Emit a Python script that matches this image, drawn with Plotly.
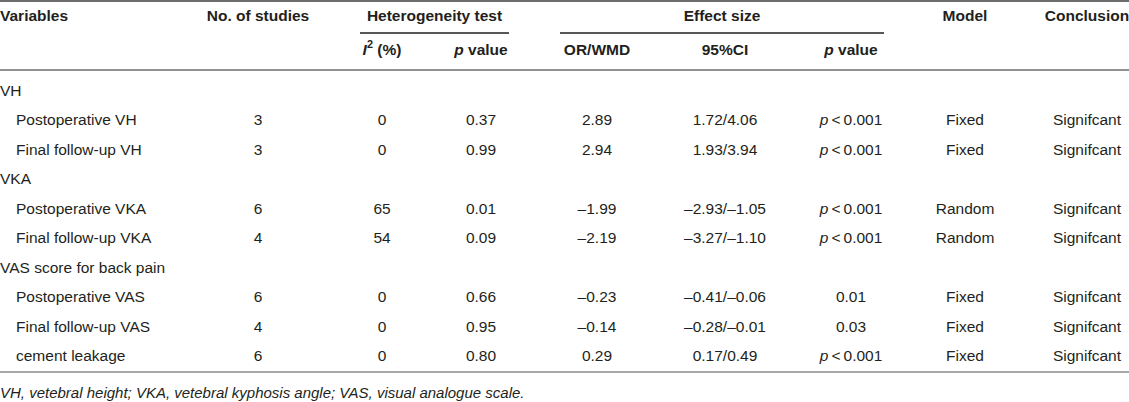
import plotly.graph_objects as go

# ---------------- data ----------------
variables = ["VH", "Postoperative VH", "Final follow-up VH",
             "VKA", "Postoperative VKA", "Final follow-up VKA",
             "VAS score for back pain", "Postoperative VAS", "Final follow-up VAS",
             "cement leakage"]
is_group = [True, False, False, True, False, False, True, False, False, False]
n_studies = ["", "3", "3", "", "6", "4", "", "6", "4", "6"]
i2 = ["", "0", "0", "", "65", "54", "", "0", "0", "0"]
p_het = ["", "0.37", "0.99", "", "0.01", "0.09", "", "0.66", "0.95", "0.80"]
or_wmd = ["", "2.89", "2.94", "", "–1.99", "–2.19", "", "–0.23", "–0.14", "0.29"]
ci95 = ["", "1.72/4.06", "1.93/3.94", "", "–2.93/–1.05", "–3.27/–1.10", "",
        "–0.41/–0.06", "–0.28/–0.01", "0.17/0.49"]
p_eff = ["", "p<0.001", "p<0.001", "", "p<0.001", "p<0.001", "", "0.01", "0.03", "p<0.001"]
model = ["", "Fixed", "Fixed", "", "Random", "Random", "", "Fixed", "Fixed", "Fixed"]
conclusion = ["", "Signifcant", "Signifcant", "", "Signifcant", "Signifcant", "",
              "Signifcant", "Signifcant", "Signifcant"]

group_headers = ["Heterogeneity test", "Effect size"]
col_headers = ["Variables", "No. of studies", "<i>I</i><sup>2</sup> (%)", "<i>p</i> value",
               "OR/WMD", "95%CI", "<i>p</i> value", "Model", "Conclusion"]
footnote = "VH, vetebral height; VKA, vetebral kyphosis angle; VAS, visual analogue scale."

# ---------------- layout constants ----------------
W, H = 1129, 402
FONT = "Liberation Sans, Arial, Helvetica, sans-serif"
TXT = "#231f20"
FS = 15.5
COLX = [0, 258, 382, 481, 597, 725, 851, 965, 1087]
INDENT = 16
ROW0, STEP = 92, 29.5
HDR1_Y, HDR2_Y = 17, 51
LINE_TOP, LINE_GRP, LINE_HDR, LINE_BOT = 1, 33, 70, 372
FOOT_Y = 394
GROUP_SPANS = [(360, 509), (560, 884)]


def fmt_p(s):
    if s.startswith("p<"):
        return "<i>p</i>\u2009&lt;\u2009" + s[2:]
    return s


row_y = [ROW0 + i * STEP for i in range(len(variables))]

fig = go.Figure()


def add_text(xs, ys, texts, pos="middle center", bold=False, italic=False, size=FS):
    keep = [(x, y, s) for x, y, s in zip(xs, ys, texts) if s]
    xs = [k[0] for k in keep]
    ys = [k[1] for k in keep]
    t = [k[2] for k in keep]
    if bold:
        t = ["<b>" + s + "</b>" for s in t]
    fig.add_trace(go.Scatter(
        x=xs, y=ys, text=t, mode="text", textposition=pos,
        textfont=dict(family=FONT, size=size, color=TXT,
                      style="italic" if italic else "normal"),
        hoverinfo="skip", showlegend=False, cliponaxis=False))


# Variables column
add_text([COLX[0] if g else COLX[0] + INDENT for g in is_group], row_y, variables,
         pos="middle right")
# value columns
for cx, vals in zip(COLX[1:], [n_studies, i2, p_het, or_wmd, ci95,
                               [fmt_p(v) for v in p_eff], model, conclusion]):
    add_text([cx] * len(vals), row_y, vals)

# headers row 1
add_text([COLX[0]], [HDR1_Y], [col_headers[0]], pos="middle right", bold=True)
add_text([COLX[1]], [HDR1_Y], [col_headers[1]], bold=True)
add_text([(a + b) / 2 for a, b in GROUP_SPANS], [HDR1_Y] * 2, group_headers, bold=True)
add_text([COLX[7], COLX[8]], [HDR1_Y] * 2, col_headers[7:9], bold=True)
# headers row 2
add_text(COLX[2:7], [HDR2_Y] * 5, col_headers[2:7], bold=True)

# footnote
add_text([0], [FOOT_Y], [footnote], pos="middle right", italic=True, size=15)

shapes = [
    dict(type="line", x0=0, x1=W, y0=LINE_TOP, y1=LINE_TOP, line=dict(color="#6d6d6d", width=2)),
    dict(type="line", x0=0, x1=W, y0=LINE_HDR, y1=LINE_HDR, line=dict(color="#6d6d6d", width=1.5)),
    dict(type="line", x0=0, x1=W, y0=LINE_BOT, y1=LINE_BOT, line=dict(color="#8a8a8a", width=1.5)),
]
for a, b in GROUP_SPANS:
    shapes.append(dict(type="line", x0=a, x1=b, y0=LINE_GRP, y1=LINE_GRP,
                       line=dict(color="#231f20", width=1.5)))
for s in shapes:
    s.update(xref="x", yref="y", layer="above")

fig.update_layout(
    width=W, height=H, margin=dict(l=0, r=0, t=0, b=0),
    paper_bgcolor="white", plot_bgcolor="white",
    xaxis=dict(range=[0, W], visible=False, fixedrange=True),
    yaxis=dict(range=[H, 0], visible=False, fixedrange=True),
    shapes=shapes,
)

fig.write_html(
    "out.html",
    config={"displayModeBar": False},
    post_script="document.body.style.margin='0';document.body.style.overflow='hidden';",
)
